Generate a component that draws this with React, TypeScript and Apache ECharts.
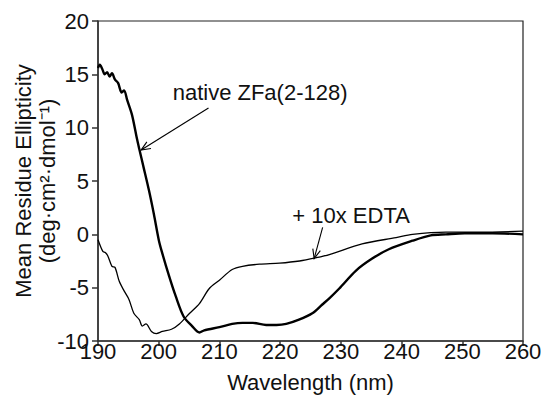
import React, { useEffect, useRef } from "react";
import * as echarts from "echarts";

// native ZFa(2-128) (thick curve)
const nativeWavelength = [
  190.0, 190.3, 190.7, 191.1, 191.5, 191.9, 192.3, 192.8, 193.3, 193.9, 194.3, 194.8,
  195.6, 196.4, 196.8, 197.5, 198.4, 199.2, 200.0, 200.5, 201.7, 202.8, 204.1, 205.5,
  206.7, 207.5, 208.3, 210.0, 212.1, 213.8, 215.5, 217.7, 219.4, 221.0, 223.1, 225.3,
  226.9, 228.1, 229.7, 232.5, 235.1, 237.9, 241.8, 244.8, 247.3, 250.4, 255.0, 260.0,
];
const nativeValues = [
  15.6, 15.9, 15.5, 15.0, 15.2, 14.8, 15.1, 14.5, 14.2, 13.3, 13.5, 12.6,
  11.2, 9.0, 8.0, 6.3, 4.1, 1.9, -0.5, -1.6, -3.9, -5.8, -7.7, -8.6,
  -9.2, -9.0, -8.9, -8.7, -8.4, -8.3, -8.3, -8.5, -8.5, -8.4, -8.0, -7.4,
  -6.6, -6.0, -5.1, -3.4, -2.3, -1.4, -0.6, -0.1, 0.0, 0.1, 0.1, 0.0,
];

// + 10x EDTA (thin curve)
const edtaWavelength = [
  190.0, 190.8, 191.2, 191.6, 192.3, 192.8, 193.5, 194.3, 195.1, 195.9, 196.8, 197.3,
  197.9, 198.8, 199.6, 200.6, 202.1, 203.4, 205.1, 206.7, 208.3, 210.0, 212.1, 213.8,
  216.6, 219.9, 223.2, 225.9, 228.1, 233.5, 239.1, 241.8, 247.3, 252.8, 260.0,
];
const edtaValues = [
  -0.5, -1.6, -1.7, -2.0, -3.0, -3.1, -4.4, -5.3, -6.1, -7.4, -8.0, -8.6,
  -8.4, -9.1, -9.3, -9.1, -8.9, -8.4, -7.4, -6.5, -5.1, -4.3, -3.3, -3.0,
  -2.8, -2.7, -2.5, -2.2, -1.9, -0.9, -0.3, 0.0, 0.2, 0.2, 0.3,
];

const xTicks = [190, 200, 210, 220, 230, 240, 250, 260];
const yTicks = [-10, -5, 0, 5, 10, 15, 20];

const FONT = "'Liberation Sans', Arial, sans-serif";
const FS = 22;

export default function App() {
  const ref = useRef<HTMLDivElement>(null);
  useEffect(() => {
    if (!ref.current) return;
    const chart = echarts.init(ref.current, undefined, { renderer: "svg" });
    const nativeData = nativeWavelength.map((w, i) => [w, nativeValues[i]]);
    const edtaData = edtaWavelength.map((w, i) => [w, edtaValues[i]]);
    chart.setOption({
      animation: false,
      backgroundColor: "#ffffff",
      textStyle: { fontFamily: FONT },
      grid: {
        left: 98,
        right: 18,
        top: 21,
        bottom: 55,
        outerBoundsMode: "none",
        containLabel: false,
        show: true,
        borderColor: "#222",
        borderWidth: 1.2,
        backgroundColor: "transparent",
      },
      xAxis: {
        type: "value",
        min: xTicks[0],
        max: xTicks[xTicks.length - 1],
        interval: 10,
        name: "Wavelength (nm)",
        nameLocation: "middle",
        nameGap: 30,
        nameMoveOverlap: false,
        nameTextStyle: { fontSize: FS, color: "#111", fontFamily: FONT },
        axisLine: { show: true, onZero: false, lineStyle: { color: "#333", width: 1.5 } },
        axisTick: { show: true, length: 5, lineStyle: { color: "#333", width: 1.5 } },
        axisLabel: { fontSize: FS, color: "#111", margin: -1, fontFamily: FONT },
        splitLine: { show: false },
      },
      yAxis: {
        type: "value",
        min: yTicks[0],
        max: yTicks[yTicks.length - 1],
        interval: 5,
        name: "Mean Residue Ellipticity\n(deg·cm²·dmol⁻¹)",
        nameLocation: "middle",
        nameRotate: 90,
        nameGap: 39,
        nameMoveOverlap: false,
        nameTextStyle: { fontSize: FS, color: "#111", lineHeight: 24, fontFamily: FONT },
        axisLine: { show: true, onZero: false, lineStyle: { color: "#333", width: 1.5 } },
        axisTick: { show: true, length: 6, lineStyle: { color: "#333", width: 1.5 } },
        axisLabel: { fontSize: FS, color: "#111", margin: 9, fontFamily: FONT },
        splitLine: { show: false },
      },
      series: [
        {
          name: "native ZFa(2-128)",
          type: "line",
          data: nativeData,
          showSymbol: false,
          smooth: 0.3,
          lineStyle: { color: "#000", width: 2.4 },
        },
        {
          name: "+ 10x EDTA",
          type: "line",
          data: edtaData,
          showSymbol: false,
          smooth: 0.3,
          lineStyle: { color: "#000", width: 1.3 },
        },
      ],
    });

    const px = (w: number, v: number) => chart.convertToPixel({ gridIndex: 0 }, [w, v]) as number[];
    const arrow = (from: number[], to: number[]) => {
      const ang = Math.atan2(to[1] - from[1], to[0] - from[0]);
      const len = 10;
      const spread = 0.4;
      const a1 = [to[0] - len * Math.cos(ang - spread), to[1] - len * Math.sin(ang - spread)];
      const a2 = [to[0] - len * Math.cos(ang + spread), to[1] - len * Math.sin(ang + spread)];
      return [
        { type: "line", shape: { x1: from[0], y1: from[1], x2: to[0], y2: to[1] }, style: { stroke: "#000", lineWidth: 1.1 } },
        { type: "polyline", shape: { points: [a1, to, a2] }, style: { stroke: "#000", lineWidth: 1.1, fill: null } },
      ];
    };
    const t1 = px(202.3, 13.3);
    const t2 = px(222.0, 1.8);
    chart.setOption({
      graphic: [
        {
          type: "text",
          x: t1[0],
          y: t1[1],
          style: { text: "native ZFa(2-128)", fontSize: FS, fontFamily: FONT, fill: "#111", textVerticalAlign: "middle", textAlign: "left" },
        },
        {
          type: "text",
          x: t2[0],
          y: t2[1],
          style: { text: "+ 10x EDTA", fontSize: FS, fontFamily: FONT, fill: "#111", textVerticalAlign: "middle", textAlign: "left" },
        },
        ...arrow(px(208.2, 11.85), px(197.1, 7.9)),
        ...arrow(px(227.0, 0.65), px(225.6, -2.27)),
      ],
    });
    return () => chart.dispose();
  }, []);
  return <div ref={ref} style={{ width: 541, height: 396, position: "absolute", left: 0, top: 0 }} />;
}
